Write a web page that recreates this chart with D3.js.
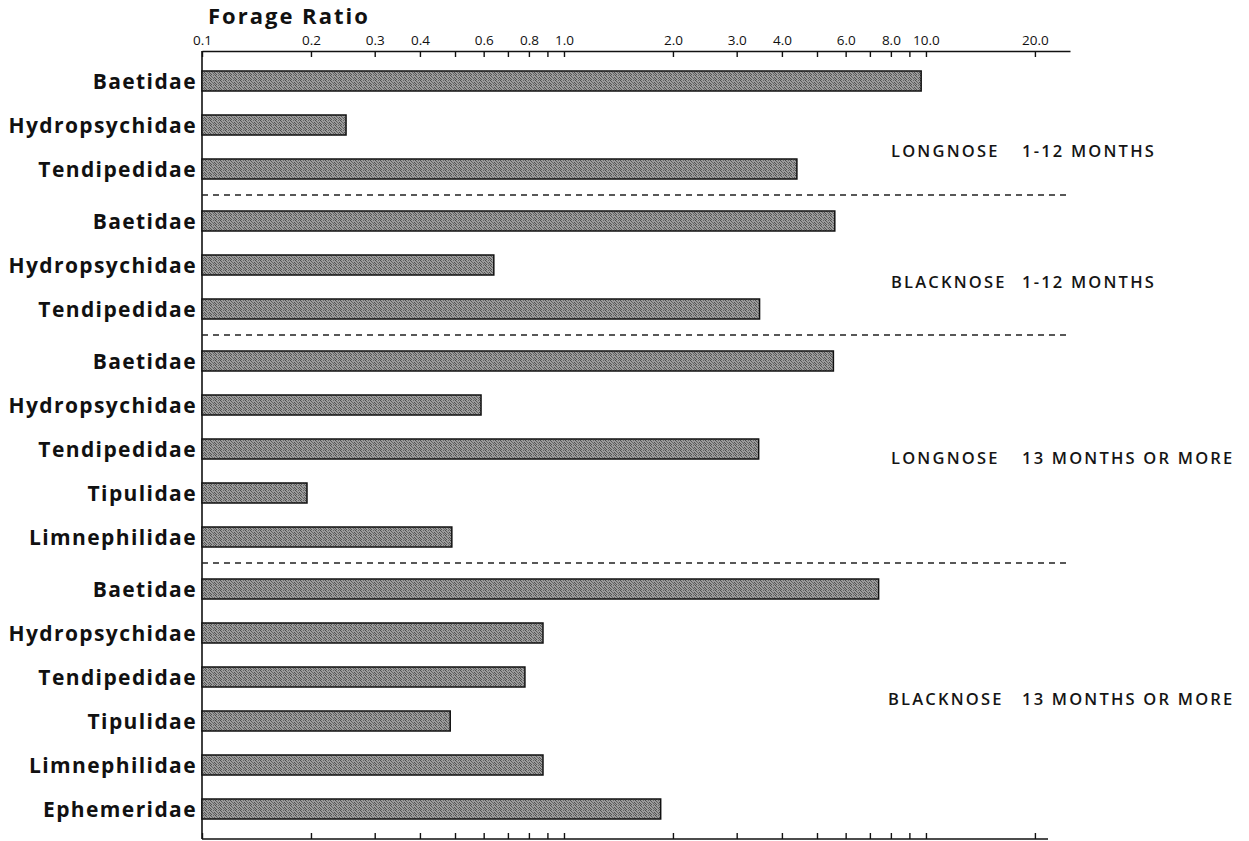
<!DOCTYPE html>
<html>
<head>
<meta charset="utf-8">
<script src="https://cdn.jsdelivr.net/npm/d3@7"></script>
<style>
  html, body { margin: 0; padding: 0; background: #fff; }
  svg { display: block; }
</style>
</head>
<body>
<svg id="chart" width="1249" height="841"></svg>
<script>
// Forage ratios of stream invertebrate families in dace stomachs
const families = [
  "Baetidae", "Hydropsychidae", "Tendipedidae",
  "Baetidae", "Hydropsychidae", "Tendipedidae",
  "Baetidae", "Hydropsychidae", "Tendipedidae", "Tipulidae", "Limnephilidae",
  "Baetidae", "Hydropsychidae", "Tendipedidae", "Tipulidae", "Limnephilidae", "Ephemeridae"
];
const groupIndex = [0, 0, 0, 1, 1, 1, 2, 2, 2, 2, 2, 3, 3, 3, 3, 3, 3];
const forageRatio = [
  9.7, 0.25, 4.4,
  5.6, 0.64, 3.47,
  5.55, 0.59, 3.45, 0.195, 0.49,
  7.4, 0.875, 0.78, 0.485, 0.875, 1.85
];
const groupFish = ["LONGNOSE", "BLACKNOSE", "LONGNOSE", "BLACKNOSE"];
const groupAge = ["1-12 MONTHS", "1-12 MONTHS", "13 MONTHS OR MORE", "13 MONTHS OR MORE"];
const tickValues = [0.1, 0.2, 0.3, 0.4, 0.5, 0.6, 0.7, 0.8, 0.9, 1, 2, 3, 4, 5, 6, 7, 8, 9, 10, 20];
const tickLabels = ["0.1", "0.2", "0.3", "0.4", "", "0.6", "", "0.8", "", "1.0",
                    "2.0", "3.0", "4.0", "", "6.0", "", "8.0", "", "10.0", "20.0"];

// ---- layout ----
const svg = d3.select("#chart");
const axisLeft = 202, axisRight = 1070, bottomRight = 1048;
const axisTop = 51, axisBottom = 839;
const rowPitch = 44, groupGap = 8, barH = 20;
const firstRowY = 81;
const font = "'Open Sans', Lato, sans-serif";

const x = d3.scaleLog().domain([0.1, 25]).range([axisLeft, axisRight]);
// slot = row index plus extra spacing for each preceding group
const y = d3.scaleLinear().domain([0, 1]).range([firstRowY, firstRowY + rowPitch]);
const slot = i => i + groupIndex[i] * groupGap / rowPitch;

// stippled fill for the bars
const defs = svg.append("defs");
const pat = defs.append("pattern")
  .attr("id", "stipple").attr("patternUnits", "userSpaceOnUse")
  .attr("width", 5).attr("height", 5);
pat.append("rect").attr("width", 5).attr("height", 5).attr("fill", "#9c9c9c");
[[0, 0, "#4a4a4a"], [3, 0, "#666"], [1, 1, "#5a5a5a"], [4, 2, "#505050"],
 [2, 2, "#6a6a6a"], [0, 3, "#555"], [3, 3, "#606060"], [1, 4, "#525252"], [4, 4, "#686868"]]
  .forEach(([px, py, c]) => pat.append("rect")
    .attr("x", px).attr("y", py).attr("width", 1).attr("height", 1).attr("fill", c));

// title
svg.append("text")
  .attr("x", 208).attr("y", 24)
  .attr("font-family", font)
  .attr("font-weight", 700).attr("font-size", 22)
  .attr("letter-spacing", 2)
  .attr("fill", "#111")
  .text("Forage  Ratio");

// top axis
const topAxis = d3.axisTop(x).tickValues(tickValues).tickSizeInner(-6).tickSizeOuter(0)
  .tickFormat((d, i) => tickLabels[i]);
const gTop = svg.append("g").attr("transform", `translate(0,${axisTop})`).call(topAxis);
gTop.select(".domain").attr("stroke", "#111").attr("stroke-width", 1.6);
gTop.selectAll(".tick line").attr("stroke", "#111").attr("stroke-width", 1.4);
gTop.selectAll(".tick text")
  .attr("y", -6)
  .attr("font-family", font)
  .attr("font-size", 13.5).attr("fill", "#111");

// bottom axis (ticks only, shorter baseline)
const bottomAxis = d3.axisBottom(x).tickValues(tickValues).tickSizeInner(-6).tickSizeOuter(0)
  .tickFormat("");
const gBot = svg.append("g").attr("transform", `translate(0,${axisBottom})`).call(bottomAxis);
gBot.select(".domain").remove();
gBot.selectAll(".tick line").attr("stroke", "#111").attr("stroke-width", 1.4);
svg.append("line")
  .attr("x1", axisLeft).attr("x2", bottomRight)
  .attr("y1", axisBottom).attr("y2", axisBottom)
  .attr("stroke", "#111").attr("stroke-width", 1.6);

// vertical axis line
svg.append("line")
  .attr("x1", axisLeft).attr("x2", axisLeft)
  .attr("y1", axisTop).attr("y2", axisBottom)
  .attr("stroke", "#111").attr("stroke-width", 1.6);

// bars
svg.append("g").selectAll("rect")
  .data(forageRatio)
  .join("rect")
  .attr("x", x(0.1))
  .attr("y", (d, i) => y(slot(i)) - barH / 2)
  .attr("width", d => x(d) - x(0.1))
  .attr("height", barH)
  .attr("fill", "url(#stipple)")
  .attr("stroke", "#111").attr("stroke-width", 1.5);

// family labels
svg.append("g").selectAll("text")
  .data(families)
  .join("text")
  .attr("x", axisLeft - 5)
  .attr("y", (d, i) => y(slot(i)))
  .attr("dy", "0.36em")
  .attr("text-anchor", "end")
  .attr("font-family", font)
  .attr("font-weight", 700).attr("font-size", 21)
  .attr("letter-spacing", 1.4)
  .attr("fill", "#111")
  .text(d => d);

// dashed separators between groups
const groupFirst = d3.range(1, groupFish.length).map(g => groupIndex.indexOf(g));
svg.append("g").selectAll("line")
  .data(groupFirst)
  .join("line")
  .attr("x1", axisLeft).attr("x2", axisRight)
  .attr("y1", i => (y(slot(i - 1)) + y(slot(i))) / 2)
  .attr("y2", i => (y(slot(i - 1)) + y(slot(i))) / 2)
  .attr("stroke", "#222").attr("stroke-width", 1.3)
  .attr("stroke-dasharray", "6,5");

// group labels, placed within each group's span
const labelRow = [1.6, 4.4, 8.2, 13.5];
const gl = svg.append("g").selectAll("text")
  .data(groupFish)
  .join("text")
  .attr("y", (d, g) => y(labelRow[g] + g * groupGap / rowPitch))
  .attr("dy", "0.35em")
  .attr("font-family", font)
  .attr("font-weight", 600).attr("font-size", 16.5)
  .attr("letter-spacing", 2.2)
  .attr("fill", "#151515");
gl.append("tspan").attr("x", (d, g) => g === 3 ? 888 : 891).text(d => d);
gl.append("tspan").attr("x", 1022).text((d, g) => groupAge[g]);
</script>
</body>
</html>
